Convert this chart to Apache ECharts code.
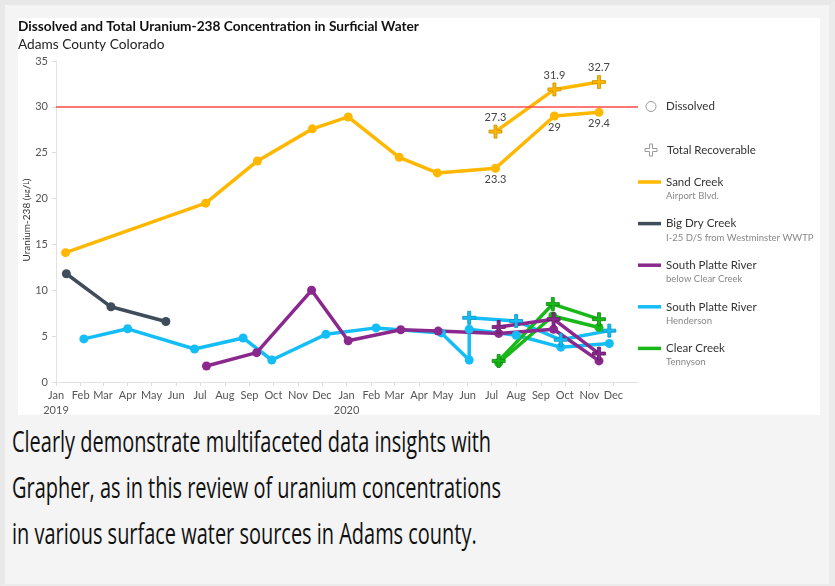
<!DOCTYPE html>
<html lang="en">
<head>
<meta charset="UTF-8">
<title>Uranium-238</title>
<script src="https://cdn.jsdelivr.net/npm/echarts@6/dist/echarts.min.js"></script>
<style>
  html, body { margin: 0; padding: 0; }
  body { width: 835px; height: 586px; background: #f4f4f4; position: relative; overflow: hidden; }
  #frame { position: absolute; left: 0; top: 0; width: 835px; height: 586px; box-sizing: border-box;
           border-left: 5px solid #e8e8e8; border-top: 5px solid #e8e8e8; border-right: 6px solid #ebebeb; border-bottom: 2px solid #ebebeb; }
  #main { position: absolute; left: 18px; top: 18px; width: 802px; height: 397px; background: #fff; }
  #caption { position: absolute; left: 12px; top: 418px; font-family: "Open Sans", sans-serif; font-size: 30px;
             line-height: 46px; color: #111; white-space: nowrap; transform: scaleX(0.665); transform-origin: 0 0; }
</style>
</head>
<body>
<div id="frame"></div>
<div id="main"></div>
<div id="caption">Clearly demonstrate multifaceted data insights with<br>Grapher, as in this review of uranium concentrations<br>in various surface water sources in Adams county.</div>
<script>
  // sample dates + readings (ug/L)
  var sandDates = ['2019-01-13', '2019-07-08', '2019-09-11', '2019-11-19', '2020-01-03', '2020-03-07', '2020-04-24', '2020-07-06', '2020-09-18', '2020-11-13'];
  var sandDissolved = [14.1, 19.5, 24.1, 27.6, 28.9, 24.5, 22.8, 23.3, 29.0, 29.4];
  var sandTotalDates = ['2020-07-06', '2020-09-18', '2020-11-13'];
  var sandTotal = [27.3, 31.9, 32.7];

  var bigDryDates = ['2019-01-14', '2019-03-11', '2019-05-19'];
  var bigDryDissolved = [11.8, 8.2, 6.6];

  var plattClearDates = ['2019-07-09', '2019-09-10', '2019-11-18', '2020-01-03', '2020-03-09', '2020-04-25', '2020-07-10', '2020-09-17', '2020-11-13'];
  var plattClearDissolved = [1.75, 3.2, 10.0, 4.5, 5.7, 5.55, 5.3, 5.75, 2.3];
  var plattClearTotalDates = ['2020-07-10', '2020-09-17', '2020-11-13'];
  var plattClearTotal = [6.0, 6.85, 3.1];

  var hendersonDates = ['2019-02-05', '2019-04-01', '2019-06-24', '2019-08-24', '2019-09-29', '2019-12-06', '2020-02-07', '2020-04-29', '2020-06-03', '2020-06-03', '2020-08-01', '2020-09-26', '2020-11-26'];
  var hendersonDissolved = [4.7, 5.8, 3.6, 4.8, 2.4, 5.2, 5.9, 5.35, 2.4, 5.75, 5.1, 3.8, 4.2];
  var hendersonTotalDates = ['2020-06-03', '2020-08-01', '2020-09-26', '2020-11-26'];
  var hendersonTotal = [7.0, 6.65, 4.6, 5.6];

  var clearDates = ['2020-07-10', '2020-09-16', '2020-11-13'];
  var clearDissolved = [2.1, 7.2, 5.95];
  var clearTotal = [2.3, 8.5, 6.85];

  var limit = 30;
  var months = ['Jan', 'Feb', 'Mar', 'Apr', 'May', 'Jun', 'Jul', 'Aug', 'Sep', 'Oct', 'Nov', 'Dec'];

  var sites = ['Sand Creek', 'Big Dry Creek', 'South Platte River', 'South Platte River', 'Clear Creek'];
  var siteNotes = ['Airport Blvd.', 'I-25 D/S from Westminster WWTP', 'below Clear Creek', 'Henderson', 'Tennyson'];
  var siteColors = ['#ffb700', '#3e4c5b', '#8b288d', '#14bdf5', '#18b818'];
  var siteBorders = ['#c98f00', '#2a3440', '#5e1a60', '#0a8fc0', '#0f850f'];

  var FONT = 'Lato, "Noto Sans", sans-serif';
  var plus = 'path://M5,0H8V5H13V8H8V13H5V8H0V5H5Z';

  function pairs(d, v) {
    return d.map(function (x, i) { return [x, v[i]]; });
  }

  function dissolved(idx, dates, vals, extra) {
    var s = {
      name: sites[idx] + ' dissolved',
      type: 'line',
      data: pairs(dates, vals),
      symbol: 'circle',
      symbolSize: 9,
      lineStyle: { width: 3.5, color: siteColors[idx] },
      itemStyle: { color: siteColors[idx] },
      emphasis: { disabled: true },
      z: 3
    };
    return Object.assign(s, extra || {});
  }

  function total(idx, dates, vals, extra) {
    var s = {
      name: sites[idx] + ' total',
      type: 'line',
      data: pairs(dates, vals),
      symbol: plus,
      symbolSize: 13,
      lineStyle: { width: 3.5, color: siteColors[idx] },
      itemStyle: { color: siteColors[idx], borderColor: siteBorders[idx], borderWidth: 0.8 },
      emphasis: { disabled: true },
      z: 3
    };
    return Object.assign(s, extra || {});
  }

  var lblStyle = { color: '#444', fontSize: 11, fontFamily: FONT };

  var series = [
    dissolved(0, sandDates, sandDissolved, {
      label: Object.assign({
        show: true, position: 'bottom', distance: 1,
        formatter: function (p) { return p.dataIndex >= 7 ? p.value[1] : ''; }
      }, lblStyle),
      markLine: {
        silent: true, symbol: 'none', label: { show: false },
        lineStyle: { color: '#ff4a4a', width: 1.5, type: 'solid' },
        data: [{ yAxis: limit }]
      }
    }),
    total(0, sandTotalDates, sandTotal, {
      label: Object.assign({ show: true, position: 'top', distance: 2 }, lblStyle)
    }),
    dissolved(1, bigDryDates, bigDryDissolved),
    dissolved(3, hendersonDates, hendersonDissolved),
    total(3, hendersonTotalDates, hendersonTotal),
    dissolved(4, clearDates, clearDissolved),
    total(4, clearDates, clearTotal),
    dissolved(2, plattClearDates, plattClearDissolved),
    total(2, plattClearTotalDates, plattClearTotal)
  ];

  // legend drawn as graphic (two-line entries)
  var legend = [];
  var lx = 620;
  legend.push({ type: 'circle', shape: { cx: lx + 13, cy: 88.5, r: 5 }, style: { fill: '#fff', stroke: '#9a9a9a', lineWidth: 1 } });
  legend.push({ type: 'text', x: lx + 28, y: 88.5, style: { text: 'Dissolved', fill: '#333', font: '11.5px ' + FONT, verticalAlign: 'middle' } });
  legend.push({ type: 'polygon', x: lx + 13, y: 132, shape: { points: [[-1.5, -6], [1.5, -6], [1.5, -1.5], [6, -1.5], [6, 1.5], [1.5, 1.5], [1.5, 6], [-1.5, 6], [-1.5, 1.5], [-6, 1.5], [-6, -1.5], [-1.5, -1.5]] }, style: { fill: '#fff', stroke: '#9a9a9a', lineWidth: 1 } });
  legend.push({ type: 'text', x: lx + 29, y: 132, style: { text: 'Total Recoverable', fill: '#333', font: '11.5px ' + FONT, verticalAlign: 'middle' } });
  for (var i = 0; i < sites.length; i++) {
    var cy = 164 + i * 41.6;
    legend.push({ type: 'line', shape: { x1: lx, y1: cy, x2: lx + 23, y2: cy }, style: { stroke: siteColors[i], lineWidth: 3.5 } });
    legend.push({ type: 'text', x: lx + 28, y: cy, style: { text: sites[i], fill: '#333', font: '11.5px ' + FONT, verticalAlign: 'middle' } });
    legend.push({ type: 'text', x: lx + 28, y: cy + 14, style: { text: siteNotes[i], fill: '#888', font: '9.5px ' + FONT, verticalAlign: 'middle' } });
  }
  // y axis title, rotated
  legend.push({
    type: 'text', x: 9, y: 202, rotation: Math.PI / 2,
    style: {
      text: 'Uranium-238 ({s|µg}/{s|L})', fill: '#333', font: '10px ' + FONT,
      align: 'center', verticalAlign: 'middle',
      rich: { s: { fontSize: 7, fill: '#333', fontFamily: FONT } }
    }
  });

  var myChart = echarts.init(document.getElementById('main'));
  var option = {
    animation: false,
    backgroundColor: '#fff',
    textStyle: { fontFamily: FONT },
    title: {
      text: 'Dissolved and Total Uranium-238 Concentration in Surficial Water',
      subtext: 'Adams County Colorado',
      left: 0, top: 2, padding: 0, itemGap: 4,
      textStyle: { fontFamily: FONT, fontSize: 13.7, fontWeight: 'bold', color: '#111' },
      subtextStyle: { fontFamily: FONT, fontSize: 13.7, color: '#222' }
    },
    grid: { left: 38, top: 43, width: 582, height: 321, containLabel: false, outerBoundsMode: 'none' },
    xAxis: {
      type: 'time',
      min: '2019-01-01',
      max: '2021-01-01',
      splitNumber: 24,
      minInterval: 28 * 86400000,
      axisLine: { lineStyle: { color: '#e2e2e2' } },
      axisTick: { show: true, length: 4, lineStyle: { color: '#dcdcdc' } },
      splitLine: { show: false },
      axisLabel: {
        showMaxLabel: false,
        color: '#555', fontSize: 11, fontFamily: FONT, margin: 6, lineHeight: 15,
        formatter: function (val) {
          var d = new Date(val);
          var m = months[d.getMonth()];
          return d.getMonth() === 0 ? m + '\n' + d.getFullYear() : m;
        }
      }
    },
    yAxis: {
      type: 'value',
      min: 0, max: 35, interval: 5,
      axisLine: { show: true, lineStyle: { color: '#e2e2e2' } },
      axisTick: { show: true, length: 4, lineStyle: { color: '#dcdcdc' } },
      splitLine: { show: false },
      axisLabel: { color: '#555', fontSize: 11, fontFamily: FONT, margin: 8 }
    },
    tooltip: { show: false },
    series: series,
    graphic: legend
  };
  myChart.setOption(option);
</script>
</body>
</html>
